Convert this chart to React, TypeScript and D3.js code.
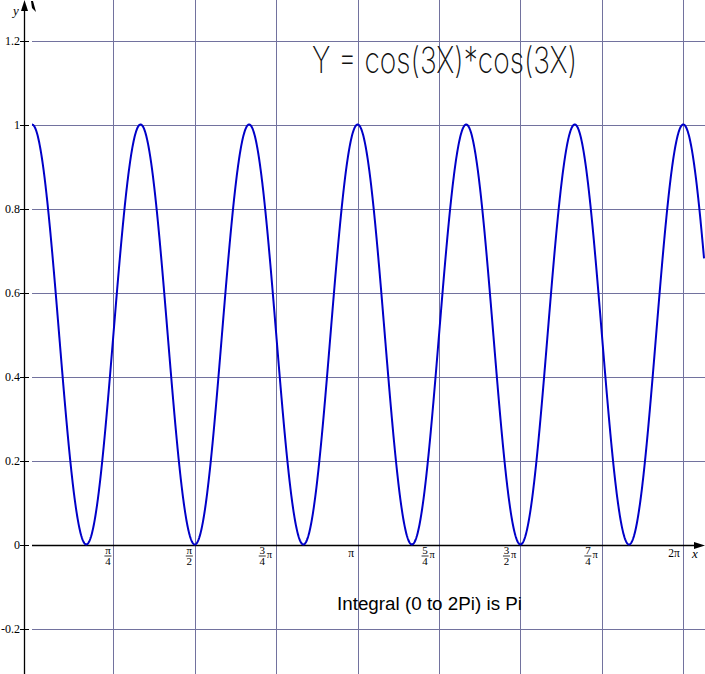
import React from "react";
import * as d3 from "d3";

// Chart content
const titleText = "Y = cos(3X)*cos(3X)";
const noteText = "Integral (0 to 2Pi) is Pi";
// plotted function as stated in the chart title
const plotFn = (x: number) => Math.cos(3 * x) * Math.cos(3 * x);
const xDomain = [0, 2 * Math.PI];
const xDataEnd = 2 * Math.PI + 0.2;
// x ticks: multiples of pi/4 → [coefficient numerator, denominator]
const xTickNum = [1, 1, 3, 1, 5, 3, 7, 2];
const xTickDen = [4, 2, 4, 1, 4, 2, 4, 1];
const xTickLabelsNum = ["π", "π", "3", "π", "5", "3", "7", "2π"];
const xTickLabelsDen = ["4", "2", "4", "", "4", "2", "4", ""];
const xTickHasPiSuffix = [false, false, true, false, true, true, true, false];
const yTicks = [-0.2, 0.2, 0.4, 0.6, 0.8, 1, 1.2];
const yTickLabels = ["-0.2", "0.2", "0.4", "0.6", "0.8", "1", "1.2"];

const W = 705;
const H = 674;

export default function App() {
  const x = d3.scaleLinear().domain(xDomain).range([32, 683.3]);
  const y = d3.scaleLinear().domain([0, 1]).range([544.5, 124.5]);
  const gridColor = "#72729e";
  const serif = "'Liberation Serif', 'Times New Roman', serif";

  const samples = d3.range(0, 1501).map((i) => (i / 1500) * xDataEnd);
  const line = d3
    .line<number>()
    .x((d) => x(d))
    .y((d) => y(plotFn(d)));

  const xTickVals = xTickNum.map((n, i) => (n / xTickDen[i]) * Math.PI);
  const y0 = y(0);

  return (
    <svg
      width={W}
      height={H}
      style={{ position: "absolute", left: 0, top: 0, background: "#fff" }}
    >
      <rect x={0} y={0} width={W} height={H} fill="#fff" />
      {/* vertical grid */}
      {xTickVals.map((v, i) => (
        <line
          key={"vx" + i}
          x1={Math.round(x(v)) + 0.5}
          x2={Math.round(x(v)) + 0.5}
          y1={0}
          y2={H}
          stroke={gridColor}
          strokeWidth={1}
        />
      ))}
      {/* horizontal grid */}
      {yTicks.map((v, i) => (
        <line
          key={"hy" + i}
          x1={32}
          x2={W}
          y1={Math.round(y(v)) + 0.5}
          y2={Math.round(y(v)) + 0.5}
          stroke={gridColor}
          strokeWidth={1}
        />
      ))}
      {/* y axis */}
      <line x1={24.5} x2={24.5} y1={6} y2={H} stroke="#000" strokeWidth={1.3} />
      <polygon points="24.5,0 21,11 28,11" fill="#000" />
      <polygon points="31,1 33,1 36,12 32,8" fill="#000" />
      <text x={13} y={15} fontFamily={serif} fontStyle="italic" fontSize={13}>
        y
      </text>
      {/* y ticks */}
      {yTicks.map((v, i) => (
        <g key={"yt" + i}>
          <line
            x1={20}
            x2={29}
            y1={Math.round(y(v)) + 0.5}
            y2={Math.round(y(v)) + 0.5}
            stroke="#000"
          />
          <text
            x={20}
            y={y(v) + 4}
            textAnchor="end"
            fontFamily={serif}
            fontSize={12}
          >
            {yTickLabels[i]}
          </text>
        </g>
      ))}
      <line x1={20} x2={29} y1={Math.round(y0) + 0.5} y2={Math.round(y0) + 0.5} stroke="#000" />
      <text x={20} y={y0 + 4} textAnchor="end" fontFamily={serif} fontSize={12}>
        0
      </text>
      {/* x axis */}
      <line x1={32} x2={699} y1={Math.round(y0) + 0.5} y2={Math.round(y0) + 0.5} stroke="#000" strokeWidth={1.3} />
      <polygon
        points={`705,${Math.round(y0) + 0.5} 694,${Math.round(y0) - 3} 694,${Math.round(y0) + 4}`}
        fill="#000"
      />
      <text x={692} y={y0 + 13} fontFamily={serif} fontStyle="italic" fontSize={13}>
        x
      </text>
      {/* x tick labels */}
      {xTickVals.map((v, i) => {
        const gx = x(v);
        const den = xTickLabelsDen[i];
        if (!den) {
          return (
            <text
              key={"xl" + i}
              x={gx - 3.5}
              y={y0 + 12}
              textAnchor="end"
              fontFamily={serif}
              fontSize={11.5}
            >
              {xTickLabelsNum[i]}
            </text>
          );
        }
        const suffix = xTickHasPiSuffix[i];
        const fracCx = suffix ? gx - 14 : gx - 5.5;
        return (
          <g key={"xl" + i} fontFamily={serif} fontSize={11}>
            <text x={fracCx} y={y0 + 9.5} textAnchor="middle">
              {xTickLabelsNum[i]}
            </text>
            <line
              x1={fracCx - 3.5}
              x2={fracCx + 3.5}
              y1={y0 + 11.5}
              y2={y0 + 11.5}
              stroke="#000"
              strokeWidth={0.8}
            />
            <text x={fracCx} y={y0 + 20.5} textAnchor="middle">
              {den}
            </text>
            {suffix && (
              <text x={fracCx + 4.5} y={y0 + 13.5} fontSize={10.5}>
                π
              </text>
            )}
          </g>
        );
      })}
      {/* curve */}
      <path
        d={line(samples) || ""}
        fill="none"
        stroke="#0000c8"
        strokeWidth={2}
        strokeLinejoin="round"
      />
      {/* title */}
      <text
        x={312}
        y={73}
        fontFamily="Inter, 'Open Sans', sans-serif"
        fontSize={36}
        fontWeight={200}
        textLength={265}
        lengthAdjust="spacingAndGlyphs"
        fill="#111"
      >
        {titleText}
      </text>
      <text
        x={337}
        y={610}
        fontFamily="'Liberation Sans', Arial, sans-serif"
        fontSize={17.5}
        textLength={185}
        lengthAdjust="spacingAndGlyphs"
        fill="#000"
      >
        {noteText}
      </text>
    </svg>
  );
}
